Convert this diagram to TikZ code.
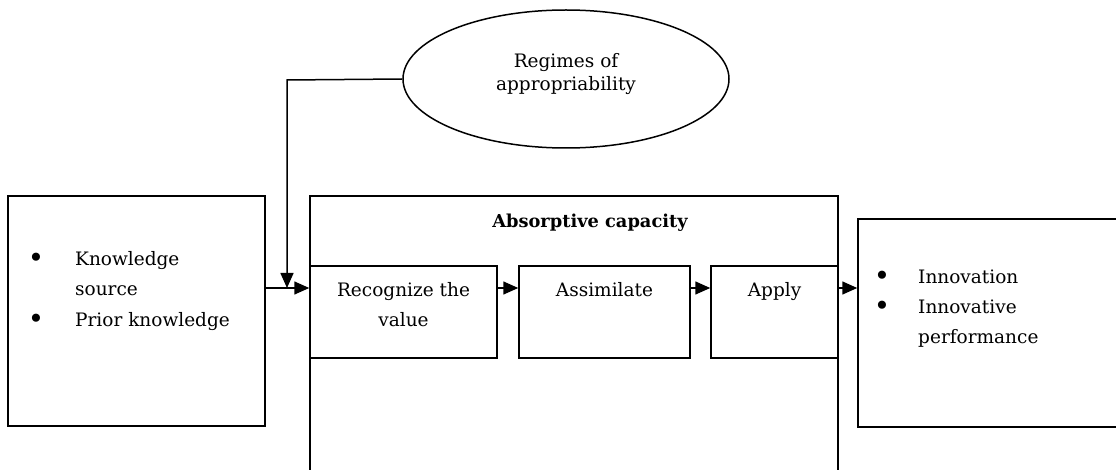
\documentclass[tikz,border=0pt]{standalone}
\usepackage{fontspec}
\setmainfont{DejaVu Serif}
\usetikzlibrary{shapes.geometric,arrows.meta}
\newcommand{\bigbul}[1]{\llap{\raisebox{-2.8pt}{\scalebox{1.5}{\textbullet}}\hspace{#1}}}
\tikzset{
  box/.style={draw, line width=1.5pt, rectangle, inner sep=0pt},
  txt/.style={inner sep=0pt, font=\fontsize{18.5}{30.5}\selectfont, align=left},
  ctxt/.style={inner sep=0pt, font=\fontsize{18.5}{23}\selectfont, align=center},
  flow/.style={line width=1.5pt, -{Triangle[length=15pt,width=13pt]}},
}
\begin{document}
\begin{tikzpicture}[x=1pt,y=-1pt]
\clip (0,0) rectangle (1116,470);
\useasboundingbox (0,0) rectangle (1116,470);
% boxes
\node[box, minimum width=257pt, minimum height=230pt] (src) at (136.5,311) {};
\node[box, minimum width=528pt, minimum height=300pt] (ac) at (574,346) {};
\node[box, minimum width=187pt, minimum height=92pt] (rec) at (403.5,312) {};
\node[box, minimum width=171pt, minimum height=92pt] (asm) at (604.5,312) {};
\node[box, minimum width=127pt, minimum height=92pt] (app) at (774.5,312) {};
\node[box, minimum width=280pt, minimum height=208pt] (out) at (998,323) {};
\node[draw, line width=1.5pt, ellipse, minimum width=326pt, minimum height=138pt] (reg) at (566,79) {};
% texts
\node[ctxt, anchor=base] (regtxt) at (566,91) {Regimes of\\appropriability};
\node[ctxt, font=\fontsize{17.8}{23}\selectfont\bfseries, anchor=base] (actxt) at (590,228) {Absorptive capacity};
\node[ctxt, anchor=base, font=\fontsize{18.5}{29}\selectfont] (rectxt) at (403.5,326) {Recognize the\\value};
\node[ctxt, anchor=base] (asmtxt) at (604.5,297) {Assimilate};
\node[ctxt, anchor=base] (apptxt) at (774.5,297) {Apply};
\node[txt, anchor=base west] (srctxt) at (75,326) {\bigbul{31pt}Knowledge\\source\\\bigbul{31pt}Prior knowledge};
\node[txt, anchor=base west, font=\fontsize{18.5}{30}\selectfont] (outtxt) at (918,343) {\bigbul{28pt}Innovation\\\bigbul{28pt}Innovative\\performance};
% connectors
\coordinate (ay) at (0,288);
\coordinate (fb) at (287,80);
\draw[flow] (src.east |- ay) -- (rec.west |- ay);
\draw[flow] (rec.east |- ay) -- (asm.west |- ay);
\draw[flow] (asm.east |- ay) -- (app.west |- ay);
\draw[flow] (ac.east |- ay) -- (out.west |- ay);
\draw[flow] (reg.west) -- (fb) -- (fb |- ay);
\end{tikzpicture}
\end{document}
